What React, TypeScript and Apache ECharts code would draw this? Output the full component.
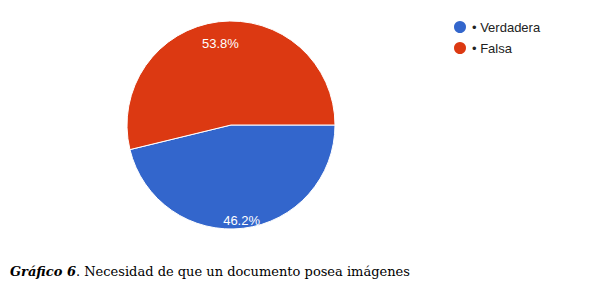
import React, { useEffect, useRef } from "react";
import * as echarts from "echarts";

const categories = ["• Verdadera", "• Falsa"];
const values = [46.2, 53.8];
const colors = ["#3366cc", "#dc3912"];

export default function App() {
  const ref = useRef<HTMLDivElement>(null);
  useEffect(() => {
    if (!ref.current) return;
    const chart = echarts.init(ref.current, null, { renderer: "svg" });
    const data = categories.map((name, i) => ({ name, value: values[i], itemStyle: { color: colors[i] } }));
    chart.setOption({
      animation: false,
      backgroundColor: "#ffffff",
      legend: {
        orient: "vertical",
        left: 447,
        top: 14,
        icon: "circle",
        itemWidth: 14,
        itemHeight: 14,
        itemGap: 5,
        data: categories,
        textStyle: { fontFamily: "Liberation Sans, Arial", fontSize: 13, color: "#222222" },
      },
      series: [
        {
          type: "pie",
          center: [231, 125],
          radius: [0, 104],
          startAngle: 0,
          clockwise: true,
          label: { show: false },
          labelLine: { show: false },
          itemStyle: { borderColor: "#ffffff", borderWidth: 1 },
          emphasis: { disabled: true },
          data,
        },
        {
          type: "pie",
          center: [231, 125],
          radius: [76, 96],
          startAngle: 0,
          clockwise: true,
          silent: true,
          legendHoverLink: false,
          itemStyle: { color: "rgba(0,0,0,0)", borderWidth: 0 },
          label: {
            show: true,
            position: "inside",
            offset: [0, 7],
            formatter: (p: any) => p.value.toFixed(1) + "%",
            color: "#ffffff",
            fontFamily: "Liberation Sans, Arial",
            fontSize: 13,
            textBorderWidth: 0,
          },
          labelLine: { show: false },
          data: categories.map((name, i) => ({ name: name + " ", value: values[i] })),
        },
      ],
      graphic: [
        {
          type: "text",
          left: 10,
          top: 265,
          style: {
            text: "{b|Gráfico 6}{r|. Necesidad de que un documento posea imágenes}",
            rich: {
              b: { fontFamily: "DejaVu Serif", fontSize: 13, fontWeight: "bold", fontStyle: "italic", fill: "#000" },
              r: { fontFamily: "DejaVu Serif", fontSize: 13, fill: "#000" },
            },
          },
        },
      ],
    });
    return () => chart.dispose();
  }, []);
  return <div ref={ref} style={{ position: "absolute", left: 0, top: 0, width: 595, height: 291 }} />;
}
